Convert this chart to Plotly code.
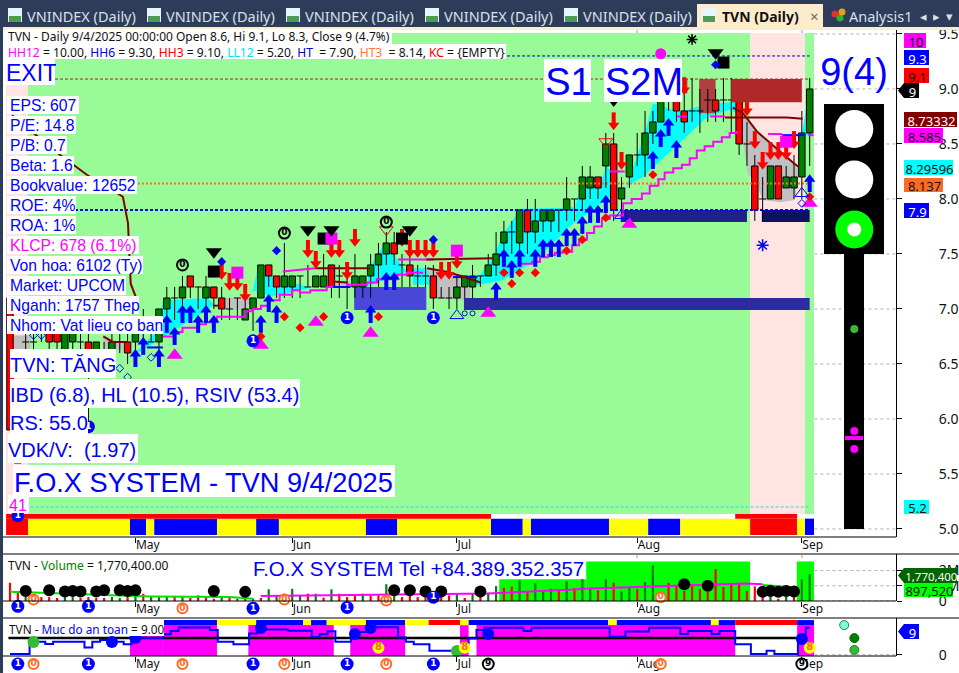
import plotly.graph_objects as go

W, H = 959, 673
BLUE = "#0000ff"; RED = "#ff0000"; MAG = "#ff00ff"; DK = "#800000"
SANS = "Liberation Sans"; UI = "Noto Sans"

# ---------- price data (per bar) ----------
opens = [7.1,5.6,6.7,6.7,6.8,6.8,6.8,6.6,6.7,6.7,6.7,6.6,6.6,6.6,6.7,6.7,6.7,6.7,6.7,6.7,
 7.0,7.1,7.1,7.3,7.2,7.1,7.2,7.1,7.0,7.1,6.9,7.0,7.1,7.4,7.3,7.2,7.2,7.3,7.2,7.2,
 7.2,7.4,7.3,7.2,7.2,7.2,7.3,7.4,7.5,7.6,7.4,7.4,7.3,7.3,7.3,7.1,7.1,7.1,7.2,7.2,
 7.3,7.3,7.4,7.6,7.7,7.6,7.9,7.7,7.8,7.8,7.9,7.9,8.0,8.0,8.1,8.2,8.3,8.5,8.0,8.2,
 8.4,8.4,8.6,8.7,8.9,8.9,8.8,8.8,8.8,8.9,8.9,8.9,8.9,8.9,8.5,8.3,8.0,8.0,8.3,8.1,8.1,8.2,8.6]
closes = [5.9,5.6,6.7,6.7,6.8,6.7,6.7,6.8,6.8,6.7,6.6,6.7,6.6,6.7,6.7,6.6,6.8,6.7,6.7,7.0,
 7.1,7.1,7.2,7.2,7.2,7.2,7.1,7.0,7.0,7.1,7.0,7.1,7.4,7.3,7.2,7.3,7.3,7.3,7.2,7.3,
 7.3,7.2,7.3,7.2,7.3,7.3,7.4,7.5,7.6,7.5,7.4,7.3,7.3,7.3,7.1,7.1,7.1,7.2,7.3,7.3,
 7.3,7.4,7.5,7.7,7.7,7.9,7.7,7.8,7.9,7.9,7.9,8.0,8.0,8.2,8.2,8.1,8.5,7.9,8.1,8.4,
 8.4,8.6,8.7,8.9,8.9,8.8,8.7,8.8,8.8,8.9,8.8,8.9,8.9,8.5,8.5,7.9,8.0,8.3,8.0,8.2,8.2,8.6,9.0]
highs = [7.1,5.7,6.8,6.8,6.9,6.9,6.9,6.9,6.9,6.8,6.8,6.7,6.7,6.8,6.8,6.8,6.9,7.0,6.8,7.0,
 7.2,7.2,7.3,7.3,7.2,7.3,7.2,7.2,7.1,7.1,7.1,7.1,7.4,7.4,7.3,7.6,7.3,7.3,7.4,7.3,
 7.5,7.4,7.4,7.3,7.5,7.3,7.5,7.6,7.7,7.7,7.5,7.5,7.4,7.4,7.4,7.2,7.2,7.3,7.3,7.4,
 7.3,7.5,7.7,7.8,7.8,7.9,8.0,8.0,7.9,7.9,7.9,8.2,8.0,8.3,8.3,8.2,8.6,8.6,8.2,8.4,
 8.6,8.8,8.8,8.9,9.0,9.1,9.1,9.1,9.0,9.0,9.0,9.1,9.1,9.0,8.7,8.4,8.2,8.3,8.3,8.3,8.4,8.8,9.1]
lows = [5.9,5.6,6.6,6.6,6.7,6.6,6.6,6.5,6.6,6.6,5.95,6.5,6.5,6.5,6.6,6.5,6.6,6.7,6.7,6.6,
 6.9,6.9,7.0,7.1,7.0,7.0,7.0,6.9,6.9,6.9,6.9,6.8,7.1,7.2,7.1,7.1,7.1,7.1,7.2,7.2,
 7.2,7.1,7.1,7.0,7.1,7.1,7.1,7.2,7.4,7.4,7.2,7.2,7.2,7.2,7.0,7.1,7.0,7.0,7.1,7.1,
 7.2,7.3,7.3,7.5,7.5,7.5,7.5,7.6,7.7,7.7,7.7,7.8,7.8,7.9,8.0,8.0,8.1,7.8,7.9,8.1,
 8.3,8.2,8.5,8.7,8.8,8.7,8.6,8.7,8.6,8.7,8.7,8.7,8.6,8.4,8.3,7.8,7.8,8.0,8.0,8.1,8.0,8.0,8.3]
bars = list(range(len(opens)))

volume_m = [1.2,.6,.3,.26,.26,.26,.2,.26,.26,.2,.26,.2,.2,.26,.2,.26,.26,.48,.3,.33,.33,.3,.26,.2,.37,.26,.15,.26,.26,.15,
 .2,.15,.2,.77,.37,.48,.8,.37,.48,.48,.22,.77,.48,.26,.37,.48,.37,.37,1.1,.7,.26,.53,.26,.37,.48,.96,.37,.44,.2,.48,
 .47,.55,.98,.87,.96,1.35,.66,1.18,.65,.8,.75,1.3,.85,1.43,.87,.7,1.43,1.2,.63,.96,.77,1.25,2.35,.5,1.2,1.03,.66,1.1,.77,.6,
 2.1,.92,1.15,1.2,.66,.96,.26,.3,.15,.3,.37,1.43,1.77]
volume_colors = "rrggrrrggrrrrggrgrgggrgrrrrgrrrgrggrggrgrgrrrgrrggrrrrgrrgrgrggrrgrgggrgrggrgrggrgggrrrrrrrrrrrrrgrgrgg"

safety = [.2,.2,.2,4.4,4.4,3.6,4.4,4.4,4.4,4.4,2.4,4.4,5,4.4,4.4,3.5,6.2,5.6,5.6,5.6,6.9,8,9.2,9.2,9.2,9.2,8.3,4.4,4.4,3.5,
 3.5,7.2,8.5,8.5,8.5,8.5,8.1,8.1,8.1,6,6.9,7.9,4.4,4.4,7.7,7.7,9.3,9.3,9.3,9.3,5.8,4.4,3.5,3.5,1.3,1.3,1.3,1.3,2.1,5.5,
 8.3,9.1,9.1,9.1,9.1,9.1,8,9.1,9.1,9.1,9.1,9.1,9.1,9.1,9.1,9.1,9.1,6.1,6.1,7.8,7.8,7.8,9.1,9.1,9.1,9.1,7,8,8,8,
 7,8,8,3.5,3.5,.2,.2,1.3,.2,.2,.2,6.2,9.1]

# ---------- indicator lines (bar position, price) ----------
stair_x = [19.5,21,22,24,25,26.4,29.3,30,31,32,33,34.4,36,37,38.3,40.4,43,45.5,46.8,49.4,50.6,52.7,None,
 64.7,66.6,67.6,68.6,69.5,70.5,71.7,72.6,73.6,74.5,75.5,76.5,78.2,79.3,80.6,81.6,82.7,83.5,84.6,85.7,86.7,87.6,88.6,89.7,90.8,91.8,92.7]
stair_y = [6.75,6.79,6.83,6.86,6.88,6.93,6.93,6.98,7.0,7.03,7.08,7.13,7.17,7.15,7.17,7.2,7.22,7.24,7.27,7.31,7.33,7.33,None,
 7.41,7.43,7.47,7.49,7.51,7.52,7.58,7.63,7.69,7.75,7.82,7.85,7.96,8.0,8.05,8.12,8.18,8.24,8.28,8.31,8.37,8.44,8.48,8.52,8.56,8.6,8.62]
upper_x = [34.8,38.9,None,49.5,54,None,76.5,78.4,None,85,86.4,None,89.3,91.2,None,96.7,98.5,None,101.8,102.5]
upper_y = [7.34,7.37,None,7.45,7.45,None,8.25,8.25,None,8.75,8.75,None,8.75,8.75,None,8.59,8.59,None,8.58,8.58]
blue_x = [17.5,19.5,None,41.2,43.4,None,56.5,59.6,None,98.5,101.4]
blue_y = [6.65,6.65,None,7.2,7.2,None,7.29,7.29,None,8.58,8.58]
ma_x = [.26,6.4,9.8,14.4,15.05,15.4,16.2,None,11.9,13.1,15.05,None,25.9,26.8,None,38.9,45.9,None,41.2,43,None,53.1,61.6,None,
 53.2,55.5,58,60,None,91.2,99.1,101.1,None,92.2,93.5,95.3,96.9,98.2,99.9,100.6]
ma_y = [8.76,8.4,8.22,8.02,7.78,7.23,7.08,None,6.75,6.7,6.7,None,7.03,7.03,None,7.37,7.37,None,7.25,7.24,None,7.45,7.46,None,
 7.37,7.34,7.29,7.24,None,8.74,8.74,8.73,None,8.83,8.78,8.61,8.51,8.43,8.33,8.29]

# ---------- clouds ----------
cyan_clouds = [
 [(15.7,6.58),(18.9,6.81),(19.5,7.08),(25.1,7.1),(26.1,7.04),(24.5,6.96),(21.7,6.84),(19.5,6.74),(17.9,6.67)],
 [(31,7.17),(31.6,7.37),(32.5,7.31),(35.1,7.26),(37,7.22),(38.3,7.19),(35.7,7.15),(33.2,7.11)],
 [(45.5,7.2),(45.9,7.38),(47.8,7.6),(49.4,7.45),(50.6,7.34),(49.1,7.29),(47.2,7.25)],
 [(51.4,7.37),(53.2,7.37),(53.6,7.22),(51.4,7.22)],
 [(57.9,7.29),(59.9,7.3),(61.9,7.51),(62.8,7.67),(65.1,7.91),(70.8,7.92),(72.1,7.93),(73.1,8.2),(75.6,8.2),(76.1,8.31),(76.8,8.22),
  (78.2,8.02),(81,8.6),(82,8.87),(85.5,8.79),(89.3,8.87),(92.5,8.88),(92.7,8.78),(91.8,8.81),(89,8.75),(85.9,8.54),(80.7,8.2),
  (77.4,8.06),(71.4,7.75),(67.2,7.45),(62.8,7.26),(59.9,7.22),(57.9,7.22)],
 [(101,8.58),(101.5,8.81),(102.3,8.58)],
]
gray_clouds = [
 [(.4,6.76),(2.6,6.76),(2.6,6.63),(.4,6.63)],
 [(26.8,7.1),(30.9,7.1),(30,6.99),(27.2,6.99)],
 [(53.2,7.37),(55.5,7.34),(58.7,7.29),(58.7,7.08),(54.8,7.09),(53.6,7.17)],
 [(41.5,7.25),(43.4,7.25),(43.4,7.19),(41.5,7.19)],
 [(11.9,6.75),(14.4,6.69),(14.4,6.63),(11.9,6.63)],
 [(93.4,8.78),(95.3,8.63),(99.9,8.33),(100.6,8.26),(100.1,7.99),(98.2,7.97),(96,7.99),(95.3,8.11),(94.1,8.24),(93.5,8.51)],
]
zones_below = [(43.9,53.1,6.99,7.2,"#4848d8"),(57.9,102,6.99,7.1,"#2c2ca0"),(77.9,94,7.79,7.9,"#202088"),(95.9,102,7.79,7.9,"#101060"),
               (87.9,90,8.78,9.09,"#b04040"),(85.9,86.4,8.96,9.09,"#b84040")]
zones_above = [(92,101,8.88,9.09,"#b02828")]

# ---------- signal markers ----------
up_x = [16,17,19,20,21,22,23,24,25,26,32,33,34,46,48,49,62,63,64,65,67,68,69,70,71,72,73,74,75,76,82,83,84,85,102]
up_y = [6.56,6.67,6.56,6.87,6.76,6.96,6.96,6.87,6.96,6.87,6.87,7.06,6.96,6.96,7.26,7.26,7.17,7.47,7.37,7.47,7.47,7.56,7.56,7.56,7.66,7.66,7.77,7.87,7.87,7.96,8.36,8.56,8.66,8.46,8.15]
down_x = [27,28,29,30,38,39,41,42,43,44,50,51,52,53,54,55,56,57,77,78,86,94,95,96,97,98,99,100]
down_y = [7.34,7.24,7.24,7.14,7.54,7.44,7.54,7.54,7.34,7.64,7.64,7.54,7.54,7.54,7.54,7.34,7.34,7.44,8.7,8.34,9.02,8.83,8.53,8.34,8.43,8.43,8.43,8.53]
black_tri_x = [26,38,41,51,77,90]; black_tri_y = [7.52,7.72,7.72,7.72,8.9,9.33]
black_sq_x = [26,40,50,91]; black_sq_y = [7.34,7.64,7.64,9.24]
mag_sq_x = [29,41,57,99]; mag_sq_y = [7.33,7.64,7.53,8.52]
mag_tri_x = [21,32,39,46,61,79,102]; mag_tri_y = [6.58,6.67,6.88,6.78,6.96,7.77,7.96]
red_dia_x = [32,35,37,40,47,63,64,65,67,71,73,76,82,102]; red_dia_y = [6.75,6.93,6.83,6.93,6.93,7.33,7.23,7.33,7.33,7.53,7.63,7.83,8.22,8.02]
blue_dia_x = [27,34,54,90]; blue_dia_y = [7.43,7.53,7.63,9.22]
open_dia_x = [3,4,14,15,18,101]; open_dia_y = [6.76,6.76,6.46,6.38,6.56,7.96]
open_cir_x = [58,59]; open_cir_y = [6.96,6.96]
open_tri_x = [57,78,101]; open_tri_y = [6.94,7.85,8.05]
red_open_x = [48,76]; red_open_y = [7.72,8.52]
zero_x = [22,35,48]; zero_y = [7.4,7.69,7.79]
one_x = [1,10,31,43,54]; one_y = [5.12,5.93,6.71,6.92,6.92]

vol_dot_x = [2,5,7,8,9,11,12,14,15,16,26,30,49,51,53,55,60,86,89,96,97,98,99,100]
vol_dot_y = [.66,.7,.62,.66,.62,.62,.7,.7,.66,.7,.66,.6,.7,.7,.62,.62,.62,1.1,1.0,.6,.66,.6,.66,.62]
vol_ma_green_x = [0,4,13,18,28,31]; vol_ma_green_y = [.6,.55,.37,.3,.26,.15]
vol_ma_mag_x = [32,45,55,61,72,73,94,96]; vol_ma_mag_y = [.33,.4,.45,.5,.75,.8,1.15,1.1]
vol_ma_green2_x = [96,100]; vol_ma_green2_y = [1.05,.9]
vol_one_x = [1,10,31,43]; vol_one_y = [-.35,-.35,-.48,-.42]
vol_one_up_x = [54]; vol_one_up_y = [.25]
vol_zero_x = [22]; vol_zero_y = [-.48]
vol_zero_up_x = [3,35,48,83]; vol_zero_up_y = [.1,.1,.03,.25]
low_one_x = [1,10,31,43,54]; low_zero_x = [3,22,35,48,83]; low_nine_x = [61,101]
blue_ball_x = [13,16,32,44,46,61,101]; blue_ball_y = [4.3,5.6,9,7,9,7,5.3]
green_ball_x = [3,57]; green_ball_y = [4.3,1.25]
eight_x = [47,58,102]; eight_y = [2.3,2.3,2.3]

# ---------- ribbons ----------
ribbon_main = [(-.5,2.3,RED),(2.3,15.3,"#ffff00"),(15.3,17.35,BLUE),(17.35,18.4,"#ffff00"),(18.4,26.4,BLUE),(26.4,31.4,"#ffff00"),
 (31.4,34.3,BLUE),(34.3,45.4,"#ffff00"),(45.4,49.4,BLUE),(49.4,61.35,"#ffff00"),(61.35,65.4,BLUE),(65.4,66.45,"#ffff00"),
 (66.45,76.4,BLUE),(76.4,81.4,"#ffff00"),(81.4,85.5,BLUE),(85.5,94.4,"#ffff00"),(94.4,100.4,RED),(100.4,101.4,"#ffff00"),(101.4,102.55,BLUE)]
ribbon_trend = [(-.5,61.35,RED),(92.5,100.4,RED)]
ribbon_safe = [(19.4,26.4,BLUE),(26.4,31.4,"#ffff00"),(31.4,37.4,BLUE),(37.4,38.4,"#ffff00"),(38.4,40.4,BLUE),(40.4,45.4,"#ffff00"),
 (45.4,50.4,BLUE),(50.4,53.4,"#ffff00"),(53.4,57.4,RED),(57.4,58.5,"#ffff00"),(58.5,76.3,BLUE),(76.3,77.4,"#ffff00"),(77.4,89.4,BLUE),
 (89.4,90.4,"#ffff00"),(90.4,92.5,BLUE),(92.5,100.4,RED),(100.4,102.55,BLUE)]
safe_zones = [(15.3,19.4,6.6),(19.4,26.4,10),(30.4,41.3,10),(43.4,50.4,10),(57.4,58.5,10),(59.5,92.5,10),(100.4,102.55,10)]
vol_zones = [(62.4,73.5,1.43),(73.5,94.4,2.6),(100.35,102.55,2.6)]

month_ticks = [16,36,57,80,101]; month_names = ["May","Jun","Jul","Aug","Sep"]

price_ticks = [5,5.5,6,6.5,7,7.5,8,8.5,9,9.5]
price_text = ["5.0","5.5","6.0","6.5","7.0","7.5","8.0","8.5","9.0","9.5"]

info_rows = [("EPS: 607",79,BLUE),("P/E: 14.8",76,BLUE),("P/B: 0.7",67,BLUE),("Beta: 1.6",74,BLUE),("Bookvalue: 12652",137,BLUE),
 ("ROE: 4%",76,BLUE),("ROA: 1%",76,BLUE),("KLCP: 678 (6.1%)",139,MAG),("Von hoa: 6102 (Ty)",143,BLUE),("Market: UPCOM",126,BLUE),
 ("Nganh: 1757 Thep",139,BLUE),("Nhom: Vat lieu co ban",163,BLUE)]

tab_names = ["VNINDEX (Daily)"]*5
tab_left = [8,147,286,425,564]

# ---------- helpers ----------
fx = lambda p: p/W
fy = lambda p: 1-p/H
shapes, notes = [], []

def rect(x0,y0,x1,y1,color,layer="above"):
    shapes.append(dict(type="rect",xref="paper",yref="paper",x0=fx(x0),x1=fx(x1),y0=fy(y0),y1=fy(y1),
                       fillcolor=color,line_width=0,layer=layer))
def hline(x0,x1,y,color="black",w=1):
    shapes.append(dict(type="line",xref="paper",yref="paper",x0=fx(x0),x1=fx(x1),y0=fy(y),y1=fy(y),line=dict(color=color,width=w)))
def vdots(x,y0,y1):
    shapes.append(dict(type="line",xref="paper",yref="paper",x0=fx(x),x1=fx(x),y0=fy(y0),y1=fy(y1),line=dict(color="#a0a0a0",width=1,dash="dot")))
def disc(cx,cy,r,color):
    shapes.append(dict(type="circle",xref="paper",yref="paper",x0=fx(cx-r),x1=fx(cx+r),y0=fy(cy-r),y1=fy(cy+r),fillcolor=color,line_width=0))
def data_rect(x0,x1,y0,y1,color,xa="x",ya="y",layer="below"):
    shapes.append(dict(type="rect",xref=xa,yref=ya,x0=x0,x1=x1,y0=y0,y1=y1,fillcolor=color,line_width=0,layer=layer))
def poly(points,color):
    path="M "+" L ".join(f"{a},{b}" for a,b in points)+" Z"
    shapes.append(dict(type="path",xref="x",yref="y",path=path,fillcolor=color,line_width=0,layer="below"))
def box(text,x0,y0,x1,y1,color="black",bg=None,size=12,family=UI,align="left",dx=0,dy=0):
    if bg: rect(x0,y0,x1,y1,bg)
    notes.append(dict(text=text,xref="paper",yref="paper",x=fx(x0+dx),y=fy(y0+dy),xanchor="left",yanchor="top",width=x1-x0-dx,height=y1-y0,
                      borderpad=0,align=align,valign="middle",showarrow=False,font=dict(family=family,size=size,color=color)))
def tag(text,x0,y0,x1,y1,color,bg,size=13):
    path=f"M {fx(x0)},{fy((y0+y1)/2)} L {fx(x0+6)},{fy(y0)} L {fx(x1)},{fy(y0)} L {fx(x1)},{fy(y1)} L {fx(x0+6)},{fy(y1)} Z"
    shapes.append(dict(type="path",xref="paper",yref="paper",path=path,fillcolor=bg,line_width=0))
    box(text,x0+6,y0,x1,y1,color,None,size,UI,"center")

# ---------- backgrounds ----------
rect(6,33,814,514,"#98fb98","below")
rect(6,33,28,514,"#ffe4e1","below")
rect(750,33,805,514,"#ffe4e1","below")
for c in gray_clouds: poly(c,"#c0c0c0")
for c in cyan_clouds: poly(c,"#00ffff")
for a,b,c,d,col in zones_below: data_rect(a,b,c,d,col)
for a,b,c,d,col in zones_above: data_rect(a,b,c,d,col,layer="above")
for a,b,col in ribbon_main: data_rect(a,b,4.945,5.094,col)
for a,b,col in ribbon_trend: data_rect(a,b,5.094,5.136,col)
for a,b,t in vol_zones: data_rect(a,b,0,t*1e6,"#00ff00","x2","y2")
for a,b,t in safe_zones: data_rect(a,b,-.45,t,MAG,"x3","y3")
for a,b,col in ribbon_safe: data_rect(a,b,10,11.7,col,"x3","y3")

# ---------- window chrome ----------
rect(0,0,3,H,"#2d3c58"); rect(0,0,W,27,"#2d3c58"); rect(3,27,W,30,"#fbeccd")
rect(697,4,823,27,"#fdeccb")
for left,name in zip(tab_left,tab_names):
    rect(left,8,left+14,22,"#e8f4fb"); rect(left+1,16,left+13,22,"#4f9a55")
    box(name,left+18,5,left+134,25,"#d9e0ea",None,14.5,UI)
rect(702,8,716,22,"#e8f4fb"); rect(703,16,715,22,"#4f9a55")
box("<b>TVN (Daily)</b>",721,5,806,25,"#111111",None,14,UI)
box("×",809,5,821,25,"#666666",None,15,UI)
disc(835,14,3.5,"#e03030"); disc(840,18,3.5,"#30b030"); disc(842,12,3.5,"#e0a020")
box("Analysis1",848,5,912,25,"#d9e0ea",None,14.5,UI)
box("◂",919,6,930,24,"#d9e0ea",None,13,UI); box("▸",932,6,943,24,"#d9e0ea",None,13,UI); box("▾",945,6,957,24,"#d9e0ea",None,13,UI)

# ---------- panel rules ----------
hline(3,896,537); hline(3,W,554); hline(3,896,601); hline(3,W,618); hline(3,896,656)
for mx in [637,802]:
    vdots(mx,30,33); vdots(mx,555,561)

# ---------- traffic light ----------
rect(824,104,884,254,"black"); rect(844,254,864,529,"black")
disc(854.3,129,19,"white"); disc(854.3,179.5,19,"white"); disc(854.3,229.5,19,"#00ff00"); disc(854.3,229.5,7,"white")
disc(854.3,329,4,"#33bb33"); disc(854.3,431,4,MAG); rect(845,436,863,440,MAG); disc(854.3,449,4,MAG)

# ---------- text ----------
box("TVN - Daily 9/4/2025 00:00:00 Open 8.6, Hi 9.1, Lo 8.3, Close 9 (4.7%)",6,29,392,44,"#111111","white",12,dx=1,dy=-1)
sp = lambda c,t: f'<span style="color:{c}">{t}</span>'
box(sp(MAG,"HH12")+" = 10.00, "+sp("#0000cc","HH6")+" = 9.30, "+sp(RED,"HH3")+" = 9.10, "+sp("#00ddff","LL12")+" = 5.20, "+
    sp("#0000cc","HT")+"  = 7.90, "+sp("#ff7733","HT3")+"  = 8.14, "+sp(RED,"KC")+" = {EMPTY}",6,44,506,59,"#111111","white",12.1,dx=1)
box("EXIT",5,59,55,85,BLUE,"white",23,SANS)
box("S1",544,59,591,102,BLUE,"white",38,SANS,"center")
box("S2M",604,59,682,102,BLUE,"white",38,SANS,"center")
box("9(4)",816,50,890,92,BLUE,None,38,SANS,"center")
for k,(t,x1,c) in enumerate(info_rows):
    box(t,7,96+20*k,x1,114+20*k+(1 if k==9 else 0),c,"white",15.7,SANS,dx=2,dy=-1)
box("TVN: TĂNG",10,349,116,378,BLUE,"white",20,SANS,dx=-1)
box("IBD (6.8), HL (10.5), RSIV (53.4)",10,379,300,408,BLUE,"white",20,SANS,dx=-1)
box("RS: 55.0",10,408,88,436,BLUE,"white",20,SANS,dx=-1)
box("VDK/V:  (1.97)",8,434,138,463,BLUE,"white",20,SANS,dx=-1)
box("F.O.X SYSTEM - TVN 9/4/2025",13,465,395,497,BLUE,"white",27.2,SANS)
box("41",8,495,29,513,MAG,"white",16,SANS)
box("TVN - "+sp("#008000","Volume")+" = 1,770,400.00",6,556,170,572,"#111111",None,12,dx=1)
box("F.O.X SYSTEM Tel +84.389.352.357",252,556,592,580,BLUE,None,20.4,SANS)
box("TVN - "+sp(BLUE,"Muc do an toan")+" = 9.00",7,620,164,636,"#111111","white",11.8,dx=1)

for t,x0,y0,x1,y1,c,bg in [("10",904,33,926,48,"#111111",MAG),("9.3",904,50,929,65,"white",BLUE),("9.1",904,68,929,83,"#111111",RED),
    ("8.73332",904,112,957,127,"white",DK),("8.585",904,128,943,143,"#111111",MAG),("8.29596",904,160,953,175,"#111111","#00ffff"),
    ("8.137",904,178,943,192,"#111111","#ff6a20"),("7.9",904,203,929,218,"white",BLUE),("5.2",904,500,929,514,"#111111","#00ffff"),
    ("897,520",904,583,953,597,"#111111","#00ff00")]:
    box(t,x0,y0,x1,y1,c,bg,13,UI,"center")
tag("9",898,83,919,98,"white","black")
tag("1,770,400",898,568,957,583,"white","#006400",11.5)
tag("9",898,624,919,639,"white",BLUE)

# ---------- traces ----------
fig = go.Figure()
def line(x,y,color,w,dash="solid",xa="x",ya="y",shape="linear"):
    fig.add_trace(go.Scatter(x=x,y=y,mode="lines",xaxis=xa,yaxis=ya,hoverinfo="skip",connectgaps=False,
                             line=dict(color=color,width=w,dash=dash,shape=shape)))
def mark(x,y,sym,size,color,xa="x",ya="y",lc=None,lw=0,text=None,tc="black",ts=9):
    fig.add_trace(go.Scatter(x=x,y=y,mode="markers+text" if text else "markers",xaxis=xa,yaxis=ya,hoverinfo="skip",cliponaxis=False,
        text=[text]*len(x) if text else None,textposition="middle center",textfont=dict(family="DejaVu Sans",size=ts,color=tc,weight="bold"),
        marker=dict(symbol=sym,size=size,color=color,line=dict(color=lc or color,width=lw))))

# reference lines
line([0,102],[9.09,9.09],"#b02020",1,"3px,2px")
line([63.4,102],[9.3,9.3],"#0000cc",1,"3px,2px")
line([0,101.8],[8.14,8.14],"#ff7020",2,"2px,2px")
line([0,102],[7.9,7.9],BLUE,2,"3px,2px")
line([2,102],[5.2,5.2],"#30d8d8",1,"3px,2px")
for p in price_ticks:
    line([102.6,113],[p,p],"#b0b0b0",1,"dot")
for v in [0,1e6,2e6]:
    line([102.6,113],[v,v],"#b0b0b0",1,"dot","x2","y2")
line([102.6,113],[0,0],"#b0b0b0",1,"dot","x3","y3")

# candles
bodies = [i for i in bars if opens[i]!=closes[i]]
fig.add_trace(go.Bar(x=bodies,y=[abs(opens[i]-closes[i]) for i in bodies],base=[min(opens[i],closes[i]) for i in bodies],width=.82,hoverinfo="skip",
    marker=dict(color=["#008000" if closes[i]>opens[i] else RED for i in bodies],line=dict(color="black",width=1))))
wx,wy = [],[]
for i in bars:
    wx += [i,i,None,i,i,None]
    wy += [highs[i],max(opens[i],closes[i]),None,min(opens[i],closes[i]),lows[i],None]
line(wx,wy,"black",1)
dx,dy = [],[]
for i in bars:
    if opens[i]==closes[i]:
        dx += [i-.45,i+.45,None]; dy += [opens[i],opens[i],None]
line(dx,dy,"black",1)

line(stair_x,stair_y,MAG,2,shape="hv")
line(upper_x,upper_y,MAG,2)
line(blue_x,blue_y,BLUE,2)
line(ma_x,ma_y,DK,2)

# markers
mark(up_x,[p-.03 for p in up_y],"line-ns",9,BLUE,lw=4)
mark(up_x,[p+.03 for p in up_y],"triangle-up",10,BLUE)
mark(down_x,[p+.03 for p in down_y],"line-ns",9,RED,lc=RED,lw=4)
mark(down_x,[p-.03 for p in down_y],"triangle-down",10,RED)
mark(black_sq_x,black_sq_y,"square",12,"black")
mark(mag_sq_x,mag_sq_y,"square",12,MAG)
mark(black_tri_x,black_tri_y,"triangle-down",14,"black")
mark(mag_tri_x,mag_tri_y,"triangle-up",14,MAG)
mark(red_dia_x,red_dia_y,"diamond",7,RED)
mark(blue_dia_x,blue_dia_y,"diamond",7,BLUE)
mark(open_dia_x,open_dia_y,"diamond-open",6,BLUE,lc=BLUE,lw=1)
mark(open_cir_x,open_cir_y,"circle-open",5,BLUE,lc=BLUE,lw=1)
mark(open_tri_x,open_tri_y,"triangle-up-open",12,BLUE,lc=BLUE,lw=1)
mark(red_open_x,red_open_y,"triangle-down-open",12,RED,lc=RED,lw=1)
mark([83],[9.32],"circle",11,MAG)
mark([87],[9.45],"asterisk-open",9,"black",lc="black",lw=1.5)
mark([96],[7.58],"asterisk-open",10,BLUE,lc=BLUE,lw=1.5)
mark(zero_x,zero_y,"circle",11,"#98fb98",lc="black",lw=2,text="0",tc="black")
mark(one_x,one_y,"circle",13,BLUE,text="1",tc="white")

# volume
fig.add_trace(go.Bar(x=bars,y=[v*1e6 for v in volume_m],xaxis="x2",yaxis="y2",width=.28,hoverinfo="skip",
    marker=dict(color=["#008000" if c=="g" else RED for c in volume_colors],line_width=0)))
line(vol_ma_green_x,[v*1e6 for v in vol_ma_green_y],"#00e000",2,xa="x2",ya="y2")
line(vol_ma_mag_x,[v*1e6 for v in vol_ma_mag_y],MAG,2,xa="x2",ya="y2")
line(vol_ma_green2_x,[v*1e6 for v in vol_ma_green2_y],"#00e000",2,xa="x2",ya="y2")
mark(vol_dot_x,[v*1e6 for v in vol_dot_y],"circle",12,"black",xa="x2",ya="y2")
mark(vol_one_up_x,[v*1e6 for v in vol_one_up_y],"circle",13,BLUE,xa="x2",ya="y2",text="1",tc="white")
mark(vol_zero_up_x,[v*1e6 for v in vol_zero_up_y],"circle",10,"white",xa="x2",ya="y2",lc="#ff6a20",lw=2,text="0",tc="#ff6a20")
mark(vol_one_x,[v*1e6 for v in vol_one_y],"circle",13,BLUE,xa="x2",ya="y5",text="1",tc="white")
mark(vol_zero_x,[v*1e6 for v in vol_zero_y],"circle",10,"white",xa="x2",ya="y5",lc="#ff6a20",lw=2,text="0",tc="#ff6a20")

# safety panel
line([-.2,101.5],[5.6,5.6],"black",2.5,xa="x3",ya="y3")
line(bars,safety,BLUE,2,xa="x3",ya="y3",shape="hvh")
mark(blue_ball_x,blue_ball_y,"circle",12,BLUE,xa="x3",ya="y3")
mark(green_ball_x,green_ball_y,"circle",12,"#33bb33",xa="x3",ya="y3")
mark(eight_x,eight_y,"circle",12,"#ffff00",xa="x3",ya="y3",text="8",tc="#ff6a20",ts=10)
mark(low_one_x,[-3.14]*5,"circle",13,BLUE,xa="x3",ya="y4",text="1",tc="white")
mark(low_zero_x,[-3.14]*5,"circle",10,"white",xa="x3",ya="y4",lc="#ff6a20",lw=2,text="0",tc="#ff6a20")
mark(low_nine_x,[-3.14]*2,"circle",11,"white",xa="x3",ya="y4",lc="black",lw=2,text="9",tc="black")
mark([106.4],[10],"circle",9,"#7fffd4",xa="x3",ya="y3",lc="#208060",lw=1)
mark([107.7],[5.6],"circle",9,"#008000",xa="x3",ya="y3",lc="#006000",lw=1)
mark([107.7],[1.6],"circle",9,"#33bb33",xa="x3",ya="y3",lc="#208020",lw=1)

# ---------- layout ----------
xr = [-.51,113.01]
xcommon = dict(range=xr,domain=[6/W,896/W],showgrid=False,zeroline=False,showline=False,ticks="outside",ticklen=5,tickcolor="black",
               tickvals=month_ticks,ticktext=month_names,ticklabelposition="outside right",ticklabelstandoff=-3,
               tickfont=dict(family=UI,size=12,color="#111111"))
ycommon = dict(side="right",showgrid=False,zeroline=False,showline=True,linecolor="black",ticks="outside",ticklen=5,tickcolor="black",
               ticklabelstandoff=34,tickfont=dict(family=UI,size=14,color="#111111"))
fig.update_layout(
    width=W,height=H,margin=dict(l=0,r=0,t=0,b=0,autoexpand=False),paper_bgcolor="white",plot_bgcolor="rgba(0,0,0,0)",
    showlegend=False,barmode="overlay",shapes=shapes,annotations=notes,
    xaxis=dict(anchor="y",**xcommon),xaxis2=dict(anchor="y2",**xcommon),xaxis3=dict(anchor="y3",**xcommon),
    yaxis=dict(anchor="x",domain=[1-537/H,1-30/H],range=[4.927,9.536],tickvals=price_ticks,ticktext=price_text,**ycommon),
    yaxis2=dict(anchor="x2",domain=[1-601/H,1-554/H],range=[0,3.09e6],tickvals=[0,1e6,2e6],ticktext=["0","1M","2M"],**ycommon),
    yaxis3=dict(anchor="x3",domain=[1-656/H,1-618/H],range=[-.45,12.4],tickvals=[0],ticktext=["0"],**ycommon),
    yaxis4=dict(anchor="x3",domain=[0,1-656/H],range=[-6.18,-.45],visible=False),
    yaxis5=dict(anchor="x2",domain=[1-618/H,1-601/H],range=[-1.118e6,0],visible=False),
)
fig.write_html("out.html",config=dict(displayModeBar=False),
               post_script="document.body.style.margin='0';document.body.style.overflow='hidden';")
